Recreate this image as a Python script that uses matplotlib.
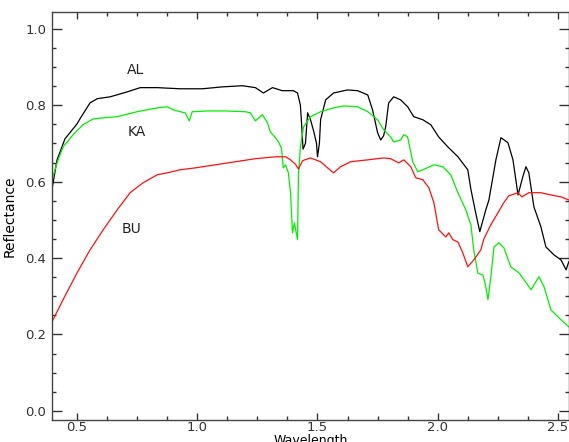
import numpy as np
import matplotlib
matplotlib.use("Agg")
import matplotlib.pyplot as plt
from matplotlib.ticker import MultipleLocator

# wavelength / reflectance
al_x = [0.396, 0.417, 0.45, 0.50, 0.513, 0.554, 0.584, 0.638, 0.709, 0.763, 0.834, 0.929,
        1.021, 1.104, 1.188, 1.242, 1.275, 1.313, 1.354, 1.40, 1.417, 1.429, 1.434, 1.440,
        1.450, 1.459, 1.471, 1.485, 1.496, 1.500, 1.508, 1.513, 1.534, 1.567, 1.625, 1.667,
        1.709, 1.729, 1.750, 1.763, 1.775, 1.784, 1.796, 1.817, 1.846, 1.875, 1.900, 1.938,
        1.971, 2.004, 2.042, 2.084, 2.125, 2.138, 2.158, 2.175, 2.200, 2.213, 2.242, 2.263,
        2.292, 2.313, 2.334, 2.354, 2.367, 2.379, 2.400, 2.429, 2.450, 2.484, 2.513, 2.534,
        2.545]
al_y = [0.58, 0.657, 0.712, 0.751, 0.765, 0.806, 0.817, 0.822, 0.835, 0.846, 0.846, 0.843,
        0.843, 0.848, 0.851, 0.846, 0.832, 0.846, 0.838, 0.838, 0.832, 0.80, 0.75, 0.685,
        0.70, 0.78, 0.762, 0.73, 0.70, 0.665, 0.70, 0.762, 0.814, 0.832, 0.840, 0.838,
        0.827, 0.788, 0.728, 0.709, 0.72, 0.745, 0.806, 0.822, 0.814, 0.796, 0.770, 0.762,
        0.749, 0.717, 0.691, 0.665, 0.631, 0.58, 0.518, 0.469, 0.526, 0.552, 0.657, 0.715,
        0.702, 0.657, 0.565, 0.613, 0.639, 0.623, 0.534, 0.482, 0.429, 0.408, 0.395, 0.369,
        0.39]

ka_x = [0.396, 0.417, 0.442, 0.484, 0.525, 0.567, 0.609, 0.667, 0.750, 0.834, 0.875, 0.900,
        0.929, 0.950, 0.967, 0.979, 1.046, 1.117, 1.200, 1.221, 1.242, 1.271, 1.292, 1.304,
        1.325, 1.338, 1.350, 1.354, 1.358, 1.367, 1.379, 1.388, 1.396, 1.404, 1.417, 1.421,
        1.429, 1.442, 1.471, 1.513, 1.567, 1.609, 1.667, 1.709, 1.750, 1.775, 1.804, 1.817,
        1.846, 1.859, 1.875, 1.896, 1.917, 1.938, 1.984, 2.021, 2.054, 2.084, 2.117, 2.138,
        2.150, 2.167, 2.188, 2.200, 2.209, 2.221, 2.234, 2.254, 2.275, 2.304, 2.338, 2.359,
        2.388, 2.421, 2.442, 2.471, 2.513, 2.545]
ka_y = [0.605, 0.649, 0.691, 0.723, 0.749, 0.764, 0.767, 0.770, 0.783, 0.793, 0.796, 0.788,
        0.783, 0.780, 0.759, 0.783, 0.785, 0.785, 0.783, 0.780, 0.759, 0.775, 0.754, 0.730,
        0.715, 0.704, 0.688, 0.662, 0.636, 0.644, 0.623, 0.571, 0.466, 0.492, 0.448, 0.62,
        0.691, 0.743, 0.770, 0.783, 0.793, 0.798, 0.796, 0.783, 0.762, 0.736, 0.717, 0.704,
        0.709, 0.723, 0.717, 0.652, 0.626, 0.631, 0.644, 0.639, 0.618, 0.571, 0.526, 0.487,
        0.421, 0.36, 0.356, 0.325, 0.291, 0.351, 0.429, 0.440, 0.427, 0.377, 0.361, 0.343,
        0.317, 0.351, 0.325, 0.264, 0.238, 0.22]

bu_x = [0.396, 0.442, 0.500, 0.554, 0.609, 0.667, 0.721, 0.775, 0.834, 0.875, 0.929, 0.992,
        1.075, 1.159, 1.242, 1.325, 1.367, 1.388, 1.409, 1.421, 1.438, 1.471, 1.513, 1.542,
        1.567, 1.596, 1.638, 1.709, 1.775, 1.804, 1.838, 1.859, 1.888, 1.909, 1.938, 1.963,
        1.984, 2.004, 2.034, 2.046, 2.063, 2.084, 2.104, 2.125, 2.150, 2.179, 2.192, 2.221,
        2.250, 2.275, 2.296, 2.334, 2.350, 2.379, 2.429, 2.471, 2.513, 2.545]
bu_y = [0.233, 0.291, 0.361, 0.421, 0.474, 0.526, 0.571, 0.597, 0.618, 0.623, 0.631, 0.636,
        0.644, 0.652, 0.660, 0.665, 0.665, 0.657, 0.645, 0.633, 0.655, 0.662, 0.652, 0.636,
        0.623, 0.639, 0.652, 0.657, 0.662, 0.660, 0.649, 0.657, 0.639, 0.610, 0.605, 0.584,
        0.545, 0.474, 0.455, 0.466, 0.448, 0.442, 0.414, 0.377, 0.395, 0.421, 0.45, 0.487,
        0.518, 0.545, 0.563, 0.571, 0.56, 0.571, 0.571, 0.565, 0.56, 0.552]

names = ["AL", "KA", "BU"]
label_x = [0.742, 0.750, 0.725]
label_y = [0.892, 0.730, 0.477]

fig = plt.figure(figsize=(5.69, 4.42), dpi=100)
ax = fig.add_axes([52 / 569, 22 / 442, 517 / 569, 408 / 442])

ax.plot(al_x, al_y, color="black", lw=0.9)
ax.plot(ka_x, ka_y, color="#00ee00", lw=0.9)
ax.plot(bu_x, bu_y, color="#ff1010", lw=0.9)

for n, lx, ly in zip(names, label_x, label_y):
    ax.text(lx, ly, n, fontsize=10, ha="center", va="center", color="#222222")

ax.set_xlim(0.396, 2.546)
ax.set_ylim(-0.024, 1.044)
ax.xaxis.set_major_locator(MultipleLocator(0.5))
ax.xaxis.set_minor_locator(MultipleLocator(0.125))
ax.yaxis.set_major_locator(MultipleLocator(0.2))
ax.yaxis.set_minor_locator(MultipleLocator(0.05))
ax.xaxis.set_major_formatter(plt.FormatStrFormatter("%.1f"))
ax.yaxis.set_major_formatter(plt.FormatStrFormatter("%.1f"))

ax.tick_params(axis="both", which="both", direction="in", top=True, right=True,
               labelsize=9.5, colors="#333333", width=1)
ax.tick_params(axis="y", which="major", length=7, pad=4)
ax.tick_params(axis="y", which="minor", length=3)
ax.tick_params(axis="x", which="major", length=5, pad=1)
ax.tick_params(axis="x", which="minor", length=3)
for s in ax.spines.values():
    s.set_color("#444444")
    s.set_linewidth(1)

ax.set_xlabel("Wavelength", fontsize=9, labelpad=0)
ax.set_ylabel("Reflectance", fontsize=10, labelpad=6)

fig.savefig("out.png", dpi=100)
